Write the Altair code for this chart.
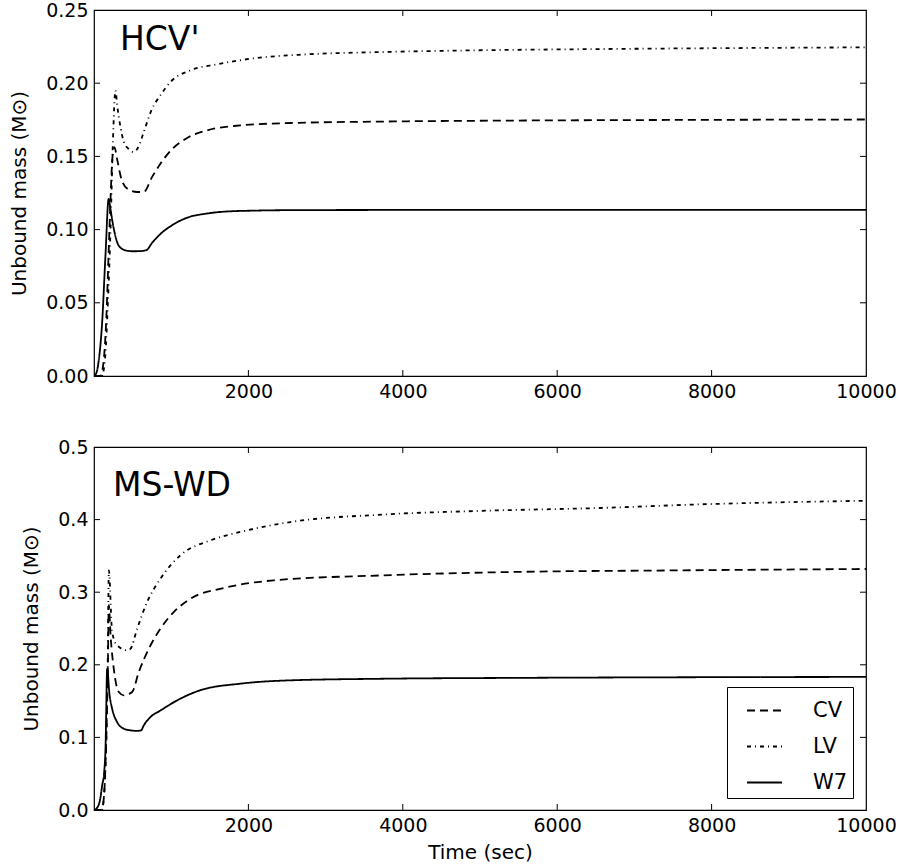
import altair as alt
import pandas as pd

# ---------------- data ----------------
models = ["CV", "LV", "W7"]

# HCV' panel
top_w7_t = [0, 30, 60, 106, 149, 190, 210, 256, 321, 408, 500, 600, 680, 753, 860, 1012, 1200, 1465, 1700, 2112, 2600, 3500, 5000, 7000, 10000]
top_w7_v = [0, 0.002, 0.010, 0.037, 0.083, 0.121, 0.115, 0.1006, 0.089, 0.0858, 0.0852, 0.0853, 0.086, 0.091, 0.097, 0.103, 0.108, 0.111, 0.1123, 0.1130, 0.1133, 0.1134, 0.1135, 0.1135, 0.1135]

top_cv_t = [0, 80, 120, 160, 190, 214, 240, 265, 300, 343, 429, 559, 645, 753, 860, 1012, 1206, 1465, 1896, 2543, 3746, 5500, 7500, 10000]
top_cv_v = [0, 0, 0.008, 0.04, 0.085, 0.121, 0.15, 0.1564, 0.148, 0.137, 0.128, 0.1257, 0.1257, 0.136, 0.145, 0.155, 0.1626, 0.1678, 0.1712, 0.1728, 0.1738, 0.1745, 0.1749, 0.1752]

top_lv_t = [0, 100, 140, 180, 214, 245, 278, 300, 343, 386, 450, 515, 580, 645, 753, 860, 990, 1249, 1594, 2025, 2759, 3746, 5000, 6500, 8000, 10000]
top_lv_v = [0, 0, 0.01, 0.05, 0.10, 0.16, 0.195, 0.185, 0.170, 0.160, 0.155, 0.153, 0.157, 0.1667, 0.1826, 0.1917, 0.2008, 0.2088, 0.2129, 0.2167, 0.2197, 0.2213, 0.2225, 0.2233, 0.2239, 0.2245]

# MS-WD panel
bot_w7_t = [0, 40, 80, 106, 130, 149, 171, 200, 235, 300, 386, 472, 550, 610, 645, 731, 860, 1077, 1378, 1896, 2543, 3746, 5500, 7500, 10000]
bot_w7_v = [0, 0.003, 0.015, 0.034, 0.05, 0.085, 0.1946, 0.16, 0.1395, 0.121, 0.112, 0.1097, 0.109, 0.1097, 0.1166, 0.128, 0.137, 0.151, 0.165, 0.174, 0.1786, 0.1808, 0.182, 0.1828, 0.1833]

bot_cv_t = [0, 100, 130, 160, 180, 192, 215, 256, 321, 386, 494, 580, 709, 860, 1033, 1249, 1680, 2327, 3746, 5500, 7500, 10000]
bot_cv_v = [0, 0, 0.02, 0.1, 0.2, 0.282, 0.24, 0.1946, 0.1625, 0.158, 0.1625, 0.19, 0.222, 0.2497, 0.2726, 0.291, 0.3057, 0.3163, 0.3232, 0.328, 0.330, 0.332]

bot_lv_t = [0, 100, 130, 160, 180, 192, 235, 300, 429, 472, 559, 688, 860, 1119, 1508, 1896, 2543, 3746, 5000, 6554, 7850, 10000]
bot_lv_v = [0, 0, 0.02, 0.1, 0.22, 0.330, 0.245, 0.2268, 0.22, 0.222, 0.2497, 0.2864, 0.3185, 0.3507, 0.3714, 0.383, 0.3966, 0.407, 0.412, 0.416, 0.421, 0.426]

x_ticks = [2000, 4000, 6000, 8000, 10000]
top_y_ticks = [0.0, 0.05, 0.10, 0.15, 0.20, 0.25]
bot_y_ticks = [0.0, 0.1, 0.2, 0.3, 0.4, 0.5]

FONT = "DejaVu Sans"
W = 772
TICK = 6


def frame(series):
    rows = []
    for name, ts, vs in series:
        for t, v in zip(ts, vs):
            rows.append({"model": name, "t": t, "v": v})
    return pd.DataFrame(rows)


def panel(series, yticks, ymax, yfmt, xtitle, label, label_x, label_y, height, show_legend):
    df = frame(series)
    xscale = alt.Scale(domain=[0, 10000], nice=False, zero=False)
    yscale = alt.Scale(domain=[0, ymax], nice=False, zero=False)
    xaxis = alt.Axis(values=x_ticks, format="d", title=xtitle, labelFlush=False,
                     labelOverlap=False, grid=False, ticks=False, domain=False,
                     labelPadding=6, titlePadding=7)
    yaxis = alt.Axis(values=yticks, format=yfmt, title="Unbound mass (M\u2299)",
                     labelFlush=False, labelOverlap=False, grid=False, ticks=False,
                     domain=False, labelPadding=6, titlePadding=16)
    X = alt.X("t:Q", scale=xscale, axis=xaxis)
    Y = alt.Y("v:Q", scale=yscale, axis=yaxis)

    if show_legend:
        legend = alt.Legend(title=None, orient="none", legendX=633, legendY=240,
                            strokeColor="black", padding=5, fillColor="white",
                            symbolType="stroke", symbolSize=1225, symbolStrokeWidth=1.8,
                            symbolStrokeColor="black", symbolOffset=14,
                            labelFontSize=21, labelFont=FONT, labelOffset=30,
                            rowPadding=7, cornerRadius=0)
    else:
        legend = None

    lines = alt.Chart(df).mark_line(color="black", strokeWidth=1.8, clip=True,
                                    interpolate="monotone").encode(
        x=X, y=Y,
        strokeDash=alt.StrokeDash("model:N", scale=alt.Scale(
            domain=models, range=[[8, 5], [4, 4, 1, 4], [1, 0]]), legend=legend),
        detail="model:N",
    )

    xt = pd.DataFrame({"t": x_ticks[:-1]})
    yt = pd.DataFrame({"v": yticks[1:-1]})
    xb = alt.Chart(xt).mark_rule(color="black", strokeWidth=1).encode(
        x=X, y=alt.value(height), y2=alt.value(height - TICK))
    xtop = alt.Chart(xt).mark_rule(color="black", strokeWidth=1).encode(
        x=X, y=alt.value(0), y2=alt.value(TICK))
    yl = alt.Chart(yt).mark_rule(color="black", strokeWidth=1).encode(
        y=Y, x=alt.value(0), x2=alt.value(TICK))
    yr = alt.Chart(yt).mark_rule(color="black", strokeWidth=1).encode(
        y=Y, x=alt.value(W), x2=alt.value(W - TICK))

    txt = alt.Chart(pd.DataFrame({"label": [label]})).mark_text(
        font=FONT, fontSize=33, align="left", baseline="alphabetic", color="black"
    ).encode(text="label:N", x=alt.value(label_x), y=alt.value(label_y))

    return alt.layer(lines, xb, xtop, yl, yr, txt).properties(width=W, height=height)


top = panel([("CV", top_cv_t, top_cv_v), ("LV", top_lv_t, top_lv_v), ("W7", top_w7_t, top_w7_v)],
            top_y_ticks, 0.25, ".2f", None, "HCV'", 26, 40, 366, False)
bottom = panel([("CV", bot_cv_t, bot_cv_v), ("LV", bot_lv_t, bot_lv_v), ("W7", bot_w7_t, bot_w7_v)],
               bot_y_ticks, 0.5, ".1f", "Time (sec)", "MS-WD", 19, 49, 363, True)

chart = alt.vconcat(top, bottom, spacing=71, bounds="flush").resolve_scale(
    strokeDash="independent"
).properties(
    padding={"left": 9, "top": 0, "right": 0, "bottom": 0},
    background="white",
).configure_view(
    stroke="black", strokeWidth=1.2
).configure_axis(
    labelFont=FONT, titleFont=FONT, labelFontSize=19, titleFontSize=20,
    labelColor="black", titleColor="black", titleFontWeight="normal"
)

chart.save("out.html", embed_options={"renderer": "svg", "actions": False})
